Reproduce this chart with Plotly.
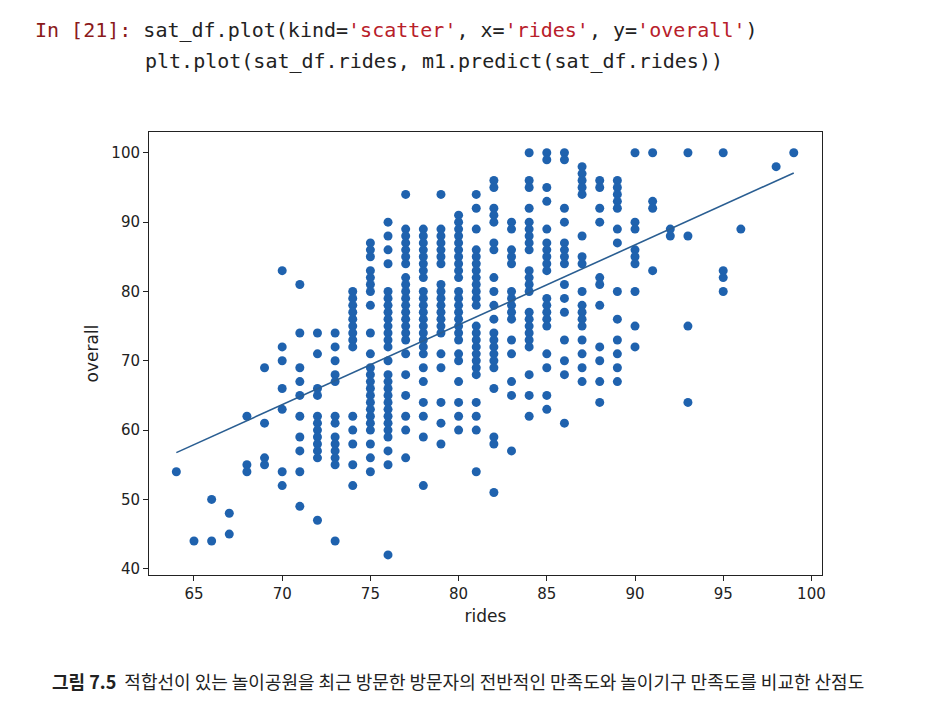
import numpy as np
import plotly.graph_objects as go

rides_cols = [64, 65, 66, 67, 68, 69, 70, 71, 72, 73, 74, 75, 76, 77, 78, 79, 80, 81, 82, 83, 84, 85, 86, 87, 88, 89, 90, 91, 92, 93, 95, 96, 98, 99]
overall_cols = [
    [54],
    [44],
    [50, 44],
    [48, 45],
    [62, 55, 54],
    [69, 61, 56, 55],
    [83, 72, 70, 66, 63, 54, 52],
    [81, 74, 69, 67, 65, 62, 59, 57, 54, 49],
    [74, 71, 66, 65, 62, 61, 60, 59, 58, 57, 56, 47],
    [74, 72, 70, 68, 67, 62, 61, 59, 58, 57, 56, 55, 44],
    [80, 79, 78, 77, 76, 75, 74, 73, 72, 62, 60, 58, 55, 52],
    [87, 86, 85, 83, 82, 81, 80, 78, 74, 71, 69, 68, 67, 66, 65, 64, 63, 62, 61, 60, 58, 56, 54],
    [90, 88, 86, 84, 80, 79, 78, 77, 76, 75, 74, 73, 72, 70, 68, 67, 66, 65, 64, 63, 62, 61, 60, 59, 57, 55, 42],
    [94, 89, 88, 87, 86, 85, 84, 82, 81, 80, 79, 78, 77, 76, 75, 74, 73, 71, 68, 65, 62, 60, 56],
    [89, 88, 87, 86, 85, 84, 83, 82, 80, 79, 78, 77, 76, 75, 74, 73, 72, 71, 69, 67, 64, 62, 59, 52],
    [94, 89, 88, 87, 86, 85, 84, 81, 80, 79, 78, 77, 76, 75, 74, 71, 69, 64, 61, 58],
    [91, 90, 89, 88, 87, 86, 85, 84, 83, 82, 80, 79, 78, 77, 76, 75, 74, 73, 71, 70, 67, 64, 62, 60],
    [94, 92, 89, 86, 85, 84, 83, 82, 81, 80, 79, 78, 75, 74, 73, 72, 71, 70, 69, 68, 64, 62, 60, 54],
    [96, 95, 92, 91, 90, 87, 86, 82, 80, 78, 76, 74, 73, 72, 71, 70, 69, 66, 59, 58, 51],
    [90, 89, 86, 85, 84, 80, 79, 78, 77, 76, 73, 71, 67, 65, 57],
    [100, 96, 95, 92, 90, 89, 88, 87, 86, 83, 82, 81, 80, 77, 76, 75, 74, 73, 72, 68, 65, 62],
    [100, 99, 95, 93, 89, 87, 86, 85, 84, 83, 79, 78, 77, 76, 75, 71, 69, 65, 63],
    [100, 99, 92, 90, 87, 86, 85, 84, 81, 79, 77, 73, 70, 68, 61],
    [98, 97, 96, 95, 94, 88, 85, 84, 80, 78, 77, 76, 75, 73, 71, 69, 67],
    [96, 95, 92, 90, 82, 81, 78, 72, 70, 67, 64],
    [96, 95, 94, 93, 92, 89, 87, 80, 76, 73, 71, 69, 67],
    [100, 90, 89, 86, 85, 84, 80, 75, 72],
    [100, 93, 92, 83],
    [89, 88],
    [100, 88, 75, 64],
    [100, 83, 82, 80],
    [89],
    [98],
    [100],
]

rides = []
overall = []
for r, ys in zip(rides_cols, overall_cols):
    for v in ys:
        rides.append(r)
        overall.append(v)
rides = np.array(rides, float)
overall = np.array(overall, float)
m, b = np.polyfit(rides, overall, 1)
pred = m * rides + b

blue = "#1f62ae"
fig = go.Figure()
fig.add_trace(go.Scatter(x=rides, y=overall, mode="markers",
                         marker=dict(size=9, color=blue), showlegend=False))
fig.add_trace(go.Scatter(x=rides, y=pred, mode="lines",
                         line=dict(color="#2a5e92", width=1.6), showlegend=False))

axis = dict(showgrid=False, zeroline=False, showline=True, mirror=True, linecolor="#222",
            ticks="outside", ticklen=5, tickcolor="#222", tickfont=dict(size=15, color="#222"))
fig.update_xaxes(range=[62.45, 100.6], tickvals=[65, 70, 75, 80, 85, 90, 95, 100],
                 title=dict(text="rides", font=dict(size=17, color="#222"), standoff=8), **axis)
fig.update_yaxes(range=[39.1, 103], tickvals=[40, 50, 60, 70, 80, 90, 100],
                 title=dict(text="overall", font=dict(size=17, color="#222"), standoff=8), **axis)

mono = "DejaVu Sans Mono"
fig.add_annotation(xref="paper", yref="paper", x=-0.172, y=1.23, xanchor="left", yanchor="middle", showarrow=False,
                   text="<span style='color:#8b1a1a'>In [21]:</span> sat_df.plot(kind=<span style='color:#b8202a'>'scatter'</span>, x=<span style='color:#b8202a'>'rides'</span>, y=<span style='color:#b8202a'>'overall'</span>)",
                   font=dict(family=mono, size=20, color="#222"))
fig.add_annotation(xref="paper", yref="paper", x=-0.009, y=1.16, xanchor="left", yanchor="middle", showarrow=False,
                   text="plt.plot(sat_df.rides, m1.predict(sat_df.rides))",
                   font=dict(family=mono, size=20, color="#222"))
fig.add_annotation(xref="paper", yref="paper", x=-0.147, y=-0.239, xanchor="left", yanchor="middle", showarrow=False,
                   text="<b>그림 7.5</b>  적합선이 있는 놀이공원을 최근 방문한 방문자의 전반적인 만족도와 놀이기구 만족도를 비교한 산점도",
                   font=dict(family="Noto Sans CJK KR", size=18, color="#222"))

fig.update_layout(width=943, height=708, margin=dict(l=141, r=129, t=124, b=141),
                  plot_bgcolor="white", paper_bgcolor="white",
                  font=dict(family="DejaVu Sans"))
fig.write_html("out.html")
